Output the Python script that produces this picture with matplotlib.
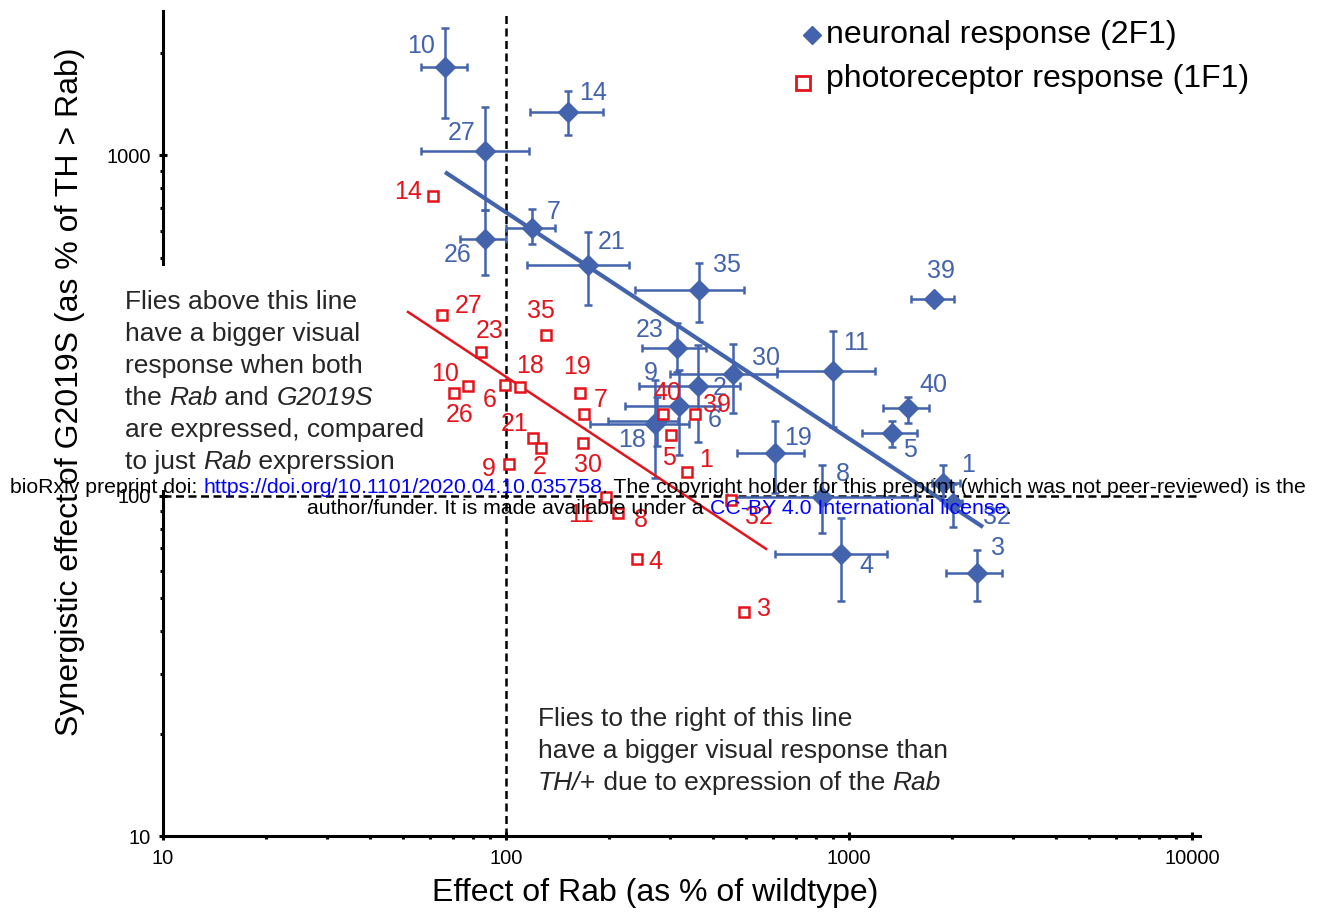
import numpy as np
import matplotlib
matplotlib.use('Agg')
import matplotlib.pyplot as plt
from matplotlib.lines import Line2D
from matplotlib.patches import Rectangle
from matplotlib.ticker import LogLocator, NullFormatter, FixedLocator, FixedFormatter

plt.rcParams['font.family'] = ['Liberation Sans', 'DejaVu Sans']

# ---------------- data ----------------
# neuronal response (2F1): x, y and error-bar limits
n_labels = ['10', '14', '27', '26', '7', '21', '35', '39', '23', '2', '30', '11',
            '40', '6', '18', '9', '5', '19', '8', '1', '32', '4', '3']
n_x    = [66.4, 151.6, 86.9, 86.9, 119, 173.4, 365, 1770, 315, 363, 459, 898,
          1486, 319, 272, 276, 1334, 608, 834, 1879, 2010, 948, 2361]
n_y    = [1813, 1337, 1027, 566, 610, 475, 401, 378, 271, 210, 227.5, 232,
          180.7, 183.2, 162.2, 166, 152.6, 133.3, 99, 108.8, 95.1, 67.3, 59.2]
n_xlo  = [56.5, 117.5, 56.5, 73.4, 100, 115, 237.8, 1517, 249, 244, 300.7, 617,
          1257, 222, 175.8, 198, 1091, 471, 440, 1746, 1900, 608, 1918]
n_xhi  = [76.9, 191.8, 116.7, 100, 139, 228.4, 494, 2024, 383, 481, 617, 1191,
          1711, 420, 341.7, 317, 1578, 739, 1578, 2107, 2130, 1291, 2793]
n_ylo  = [1284, 1145, 689, 444, 548, 362, 323, 378, 230, 144, 174.7, 159,
          163.3, 131.5, 112.5, 140, 138.8, 102, 77.6, 97, 81, 49, 49]
n_yhi  = [2360, 1542, 1383, 689, 694, 594, 482, 378, 321, 277, 278.6, 304,
          194.6, 233.7, 218.4, 195, 165.5, 165, 122.9, 122.9, 108, 85.9, 69.2]
# label offsets (pixels) relative to each point
n_dx = [-24, 25, -23, -27, 22, 24, 28, 7, -27, 22, 33, 23, 25, 36, -23, -6, 18, 23, 21, 25, 44, 25, 21]
n_dy = [-21, -19, -18, 16, -16, -23, -25, -28, -18, 2, -16, -28, -23, 14, 16, -48, 17, -15, -23, -18, 14, 12, -25]

# photoreceptor response (1F1)
p_labels = ['14', '27', '23', '35', '10', '26', '6', '18', '19', '7', '21', '2',
            '30', '9', '40', '39', '5', '1', '11', '8', '32', '4', '3']
p_x = [61.3, 65.1, 84.6, 130.8, 77.5, 70.5, 99.4, 109.9, 164.3, 168.8, 119.9, 126.5,
       167.6, 102, 287, 355.6, 302.8, 337, 195.7, 212.1, 453, 241, 494]
p_y = [758, 339, 264, 296, 210, 200, 211, 208, 200, 173.6, 147.5, 137.8,
       142.6, 123.8, 173.6, 173.6, 150.5, 117.2, 99.0, 88.9, 97, 65.1, 45.5]
p_dx = [-25, 27, 9, -5, -23, 6, -15, 10, -3, 17, -18, -1, 5, -20, 4, 22, -2, 19, -25, 23, 28, 18, 20]
p_dy = [-4, -9, -21, -24, -12, 22, 15, -21, -26, -14, -14, 19, 22, 5, -21, -9, 23, -12, 18, 7, 17, 3, -3]

# trend lines (end points)
n_fit_x = [66.4, 2459]
n_fit_y = [891, 80.8]
p_fit_x = [51.8, 573]
p_fit_y = [346, 69.7]

x_ticks = [10, 100, 1000, 10000]
y_ticks = [10, 100, 1000]

BLUE = '#4363AD'
RED = '#E3141B'
TXT = '#262626'

W, H = 1318, 916
fig = plt.figure(figsize=(W / 100, H / 100), dpi=100)
ax = fig.add_axes([163 / W, (H - 836) / H, (1200 - 163) / W, (836 - 11) / H])
ax.set_xscale('log')
ax.set_yscale('log')
ax.set_xlim(10, 10 ** 4.0233)
ax.set_ylim(10, 10 ** 3.423)

for s in ['top', 'right']:
    ax.spines[s].set_visible(False)
for s in ['left', 'bottom']:
    ax.spines[s].set_linewidth(2.2)

ax.xaxis.set_major_locator(FixedLocator(x_ticks))
ax.xaxis.set_major_formatter(FixedFormatter([str(v) for v in x_ticks]))
ax.yaxis.set_major_locator(FixedLocator(y_ticks))
ax.yaxis.set_major_formatter(FixedFormatter([str(v) for v in y_ticks]))
ax.xaxis.set_minor_locator(LogLocator(base=10, subs=np.arange(2, 10)))
ax.yaxis.set_minor_locator(LogLocator(base=10, subs=np.arange(2, 10)))
ax.xaxis.set_minor_formatter(NullFormatter())
ax.yaxis.set_minor_formatter(NullFormatter())
ax.tick_params(which='major', direction='inout', length=6, width=2.2, labelsize=14.5, pad=6)
ax.tick_params(which='minor', direction='out', length=2.5, width=2.2)

# reference dashed lines
ax.axvline(100, color='black', lw=1.8, ls=(0, (3.2, 1.8)), zorder=1)
ax.axhline(100, color='black', lw=1.8, ls=(0, (3.2, 1.8)), zorder=1)

# neuronal points
n_x_a = np.array(n_x); n_y_a = np.array(n_y)
xerr = [n_x_a - np.array(n_xlo), np.array(n_xhi) - n_x_a]
yerr = [n_y_a - np.array(n_ylo), np.array(n_yhi) - n_y_a]
ax.errorbar(n_x, n_y, xerr=xerr, yerr=yerr, fmt='D', ms=10.5, color=BLUE,
            ecolor=BLUE, elinewidth=1.8, capsize=3, capthick=1.8, zorder=3)
ax.plot(n_fit_x, n_fit_y, color=BLUE, lw=3, zorder=3.5, solid_capstyle='butt')

# photoreceptor points
ax.plot(p_fit_x, p_fit_y, color=RED, lw=1.8, zorder=3.6)
ax.plot(p_x, p_y, 's', ms=7.5, mfc='white', mec=RED, mew=1.8, zorder=4)

for lab, x, y, dx, dy in zip(n_labels, n_x, n_y, n_dx, n_dy):
    ax.annotate(lab, (x, y), xytext=(dx, -dy), textcoords='offset pixels',
                ha='center', va='center', color=BLUE, fontsize=18, zorder=5)
for lab, x, y, dx, dy in zip(p_labels, p_x, p_y, p_dx, p_dy):
    ax.annotate(lab, (x, y), xytext=(dx, -dy), textcoords='offset pixels',
                ha='center', va='center', color=RED, fontsize=18, zorder=5)

ax.set_xlabel('Effect of Rab (as % of wildtype)', fontsize=23, va='center')
ax.xaxis.set_label_coords((655 - 163) / 1037, (836 - 893) / 825)
ax.set_ylabel('Synergistic effect of G2019S (as % of TH > Rab)', fontsize=23, va='center')
ax.yaxis.set_label_coords((70 - 163) / 1037, (836 - 392) / 825)


def fx(x):
    return x / W


def fy(y):
    return 1 - y / H


renderer = fig.canvas.get_renderer()


def text_width(s, fs, style='normal'):
    t = fig.text(0, 0, s + '|', fontsize=fs, fontstyle=style)
    t2 = fig.text(0, 0, '|', fontsize=fs, fontstyle=style)
    w = t.get_window_extent(renderer).width - t2.get_window_extent(renderer).width
    t.remove(); t2.remove()
    return w


def draw_rich(pieces, x0, ybase, fs, zorder=3):
    """pieces: list of (text, colour, style)"""
    x = x0
    for s, c, st in pieces:
        fig.text(fx(x), fy(ybase), s, fontsize=fs, color=c, fontstyle=st,
                 ha='left', va='baseline', zorder=zorder)
        x += text_width(s, fs, st)
    return x - x0


# white patch hiding the left spine behind the text block
fig.add_artist(Rectangle((fx(150), fy(490)), 25 / W, (490 - 266) / H,
                         transform=fig.transFigure, facecolor='white',
                         edgecolor='none', zorder=2.8))

N, I = 'normal', 'italic'
left_lines = [[('Flies above this line', TXT, N)],
              [('have a bigger visual', TXT, N)],
              [('response when both', TXT, N)],
              [('the ', TXT, N), ('Rab', TXT, I), (' and ', TXT, N), ('G2019S', TXT, I)],
              [('are expressed, compared', TXT, N)],
              [('to just ', TXT, N), ('Rab', TXT, I), (' exprerssion', TXT, N)]]
for i, pcs in enumerate(left_lines):
    draw_rich(pcs, 125, 309 + 32 * i, 19)

right_lines = [[('Flies to the right of this line', TXT, N)],
               [('have a bigger visual response than', TXT, N)],
               [('TH/+', TXT, I), (' due to expression of the ', TXT, N), ('Rab', TXT, I)]]
for i, pcs in enumerate(right_lines):
    draw_rich(pcs, 538, 726 + 32 * i, 19)

# legend
fig.add_artist(Line2D([fx(812)], [fy(35)], marker='D', ms=9, color=BLUE,
                      transform=fig.transFigure, ls='none'))
fig.add_artist(Line2D([fx(803)], [fy(83)], marker='s', ms=10, mfc='white',
                      mec=RED, mew=2, transform=fig.transFigure, ls='none'))
fig.text(fx(826), fy(42.5), 'neuronal response (2F1)', fontsize=23,
         ha='left', va='baseline', color='black')
fig.text(fx(826), fy(87), 'photoreceptor response (1F1)', fontsize=23,
         ha='left', va='baseline', color='black')

# bioRxiv banner
line1 = [('bioRxiv preprint doi: ', 'black', N),
         ('https://doi.org/10.1101/2020.04.10.035758', 'blue', N),
         ('. The copyright holder for this preprint (which was not peer-reviewed) is the', 'black', N)]
line2 = [('author/funder. It is made available under a ', 'black', N),
         ('CC-BY 4.0 International license', 'blue', N),
         ('.', 'black', N)]

full1 = ''.join(p[0] for p in line1)
fs_b = 10 * 1303 / text_width(full1, 10)
draw_rich(line1, 10, 493, fs_b, zorder=10)
full2 = ''.join(p[0] for p in line2)
w2 = text_width(full2, fs_b)
draw_rich(line2, 659.5 - w2 / 2, 514, fs_b, zorder=10)

fig.savefig('out.png', dpi=100)
